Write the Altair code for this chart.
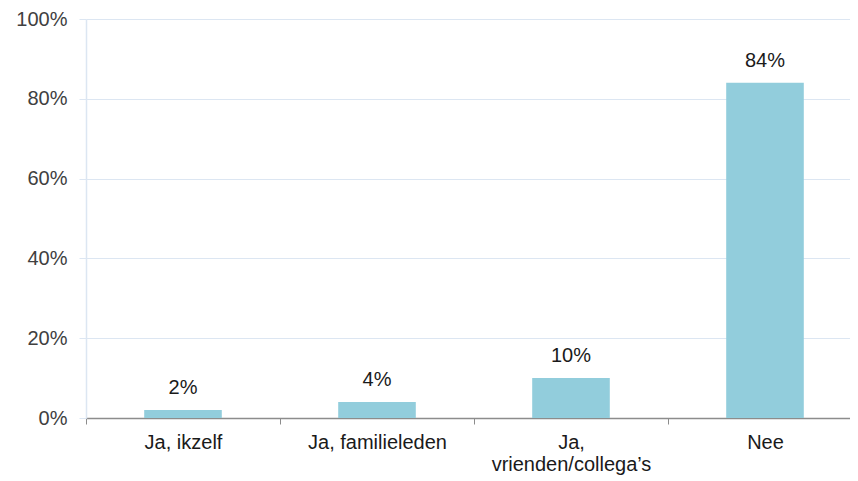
import altair as alt
import pandas as pd

categories = ["Ja, ikzelf", "Ja, familieleden", "Ja, vrienden/collega’s", "Nee"]
values = [2, 4, 10, 84]
labels = ["2%", "4%", "10%", "84%"]

df = pd.DataFrame({"cat": categories, "val": values, "lab": labels})

label_expr = "datum.label == 'Ja, vrienden/collega’s' ? ['Ja,', 'vrienden/collega’s'] : datum.label"

base = alt.Chart(df).encode(
    x=alt.X("cat:N", sort=categories, title=None,
            scale=alt.Scale(range=[0, 776], paddingInner=0, paddingOuter=0),
            axis=alt.Axis(labelAngle=0, labelExpr=label_expr, tickBand="extent",
                          domainColor="#8c8c8c", tickColor="#8c8c8c", tickSize=6,
                          labelFont="Liberation Sans", labelFontSize=20, labelColor="#1a1a1a",
                          labelPadding=8, labelLineHeight=22, grid=False)),
)

bars = base.mark_bar(color="#92CDDC", width=alt.RelativeBandSize(0.4)).encode(
    y=alt.Y("val:Q", title=None,
            scale=alt.Scale(domain=[0, 100]),
            axis=alt.Axis(values=[0, 20, 40, 60, 80, 100], labelExpr="datum.value + '%'",
                          gridColor="#DCE6F2", domainColor="#DCE6F2", tickColor="#DCE6F2",
                          tickSize=7, labelPadding=12, labelFont="Liberation Sans",
                          labelFontSize=20, labelColor="#404040"))
)

text = base.mark_text(dy=-16, baseline="alphabetic", font="Liberation Sans", fontSize=20, color="#1a1a1a").encode(
    y="val:Q", text="lab:N"
)

chart = (bars + text).properties(
    width=764, height=399,
    autosize=alt.AutoSizeParams(type="none"),
    padding={"left": 78, "top": 11, "right": 0, "bottom": 60},
).configure_view(stroke=None).configure_axis(domainWidth=1.5)

chart.save("out.html", embed_options={"renderer": "svg", "actions": False})
